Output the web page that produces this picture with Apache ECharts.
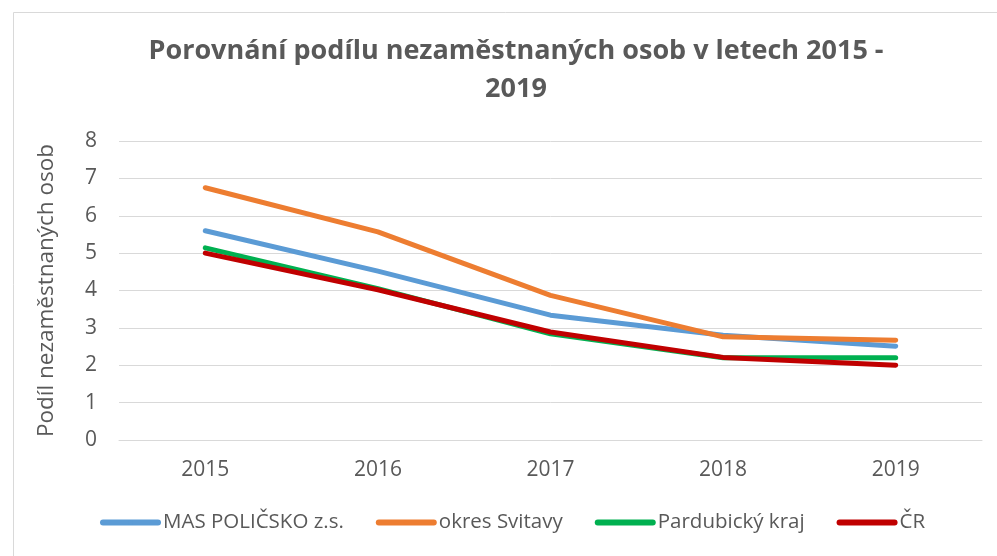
<!DOCTYPE html>
<html>
<head>
<meta charset="utf-8">
<script src="https://cdn.jsdelivr.net/npm/echarts@6/dist/echarts.min.js"></script>
<style>
  html, body { margin: 0; padding: 0; background: #fff; }
  #chart { width: 997px; height: 556px; }
</style>
</head>
<body>
<div id="chart"></div>
<script>
// data
var years = ["2015", "2016", "2017", "2018", "2019"];
var masPolicsko = [5.6, 4.52, 3.34, 2.8, 2.51];
var okresSvitavy = [6.75, 5.57, 3.87, 2.76, 2.67];
var pardubickyKraj = [5.14, 4.05, 2.84, 2.2, 2.2];
var cr = [5.0, 4.02, 2.89, 2.21, 2.0];
var yTicks = [0, 8, 1]; // min, max, step

var textColor = "#595959";
var font = "'Open Sans', 'Noto Sans', sans-serif";

function lineSeries(name, data, color) {
  return {
    name: name,
    type: "line",
    data: data,
    symbol: "none",
    smooth: false,
    lineStyle: { color: color, width: 5, cap: "round", join: "round" },
    itemStyle: { color: color }
  };
}

var myChart = echarts.init(document.getElementById("chart"), null, { renderer: "canvas" });
myChart.setOption({
  animation: false,
  backgroundColor: "#fff",
  textStyle: { fontFamily: font },
  title: {
    text: "Porovnání podílu nezaměstnaných osob v letech 2015 -\n2019",
    left: 516,
    top: 32,
    padding: 0,
    textAlign: "center",
    textStyle: { fontFamily: font, fontSize: 27, fontWeight: "bold", color: textColor, lineHeight: 38 }
  },
  graphic: [{
    type: "rect",
    left: 11, top: 10,
    shape: { width: 1000, height: 560 },
    style: { fill: "none", stroke: "#d9d9d9", lineWidth: 1 },
    silent: true
  }],
  legend: {
    left: 100,
    top: 512,
    padding: 0,
    itemWidth: 55,
    itemHeight: 6,
    itemGap: 32,
    lineStyle: { width: 6, cap: "round" },
    textStyle: { fontFamily: font, fontSize: 20.5, color: textColor },
    data: ["MAS POLIČSKO z.s.", "okres Svitavy", "Pardubický kraj", "ČR"]
  },
  grid: { left: 119, right: 15, top: 141, bottom: 116, containLabel: false },
  xAxis: {
    type: "category",
    data: years,
    boundaryGap: true,
    axisLine: { show: true, lineStyle: { color: "#d9d9d9", width: 1 } },
    axisTick: { show: false },
    axisLabel: { color: textColor, fontSize: 21, margin: 20, fontFamily: font }
  },
  yAxis: {
    type: "value",
    min: yTicks[0],
    max: yTicks[1],
    interval: yTicks[2],
    name: "Podíl nezaměstnaných osob",
    nameLocation: "middle",
    nameGap: 61,
    nameTextStyle: { fontFamily: font, fontSize: 22.5, color: textColor },
    axisLine: { show: false },
    axisTick: { show: false },
    axisLabel: { color: textColor, fontSize: 21, margin: 22, fontFamily: font },
    splitLine: { show: true, lineStyle: { color: "#d9d9d9", width: 1 } }
  },
  series: [
    lineSeries("MAS POLIČSKO z.s.", masPolicsko, "#5b9bd5"),
    lineSeries("okres Svitavy", okresSvitavy, "#ed7d31"),
    lineSeries("Pardubický kraj", pardubickyKraj, "#00b050"),
    lineSeries("ČR", cr, "#c00000")
  ]
});
</script>
</body>
</html>
